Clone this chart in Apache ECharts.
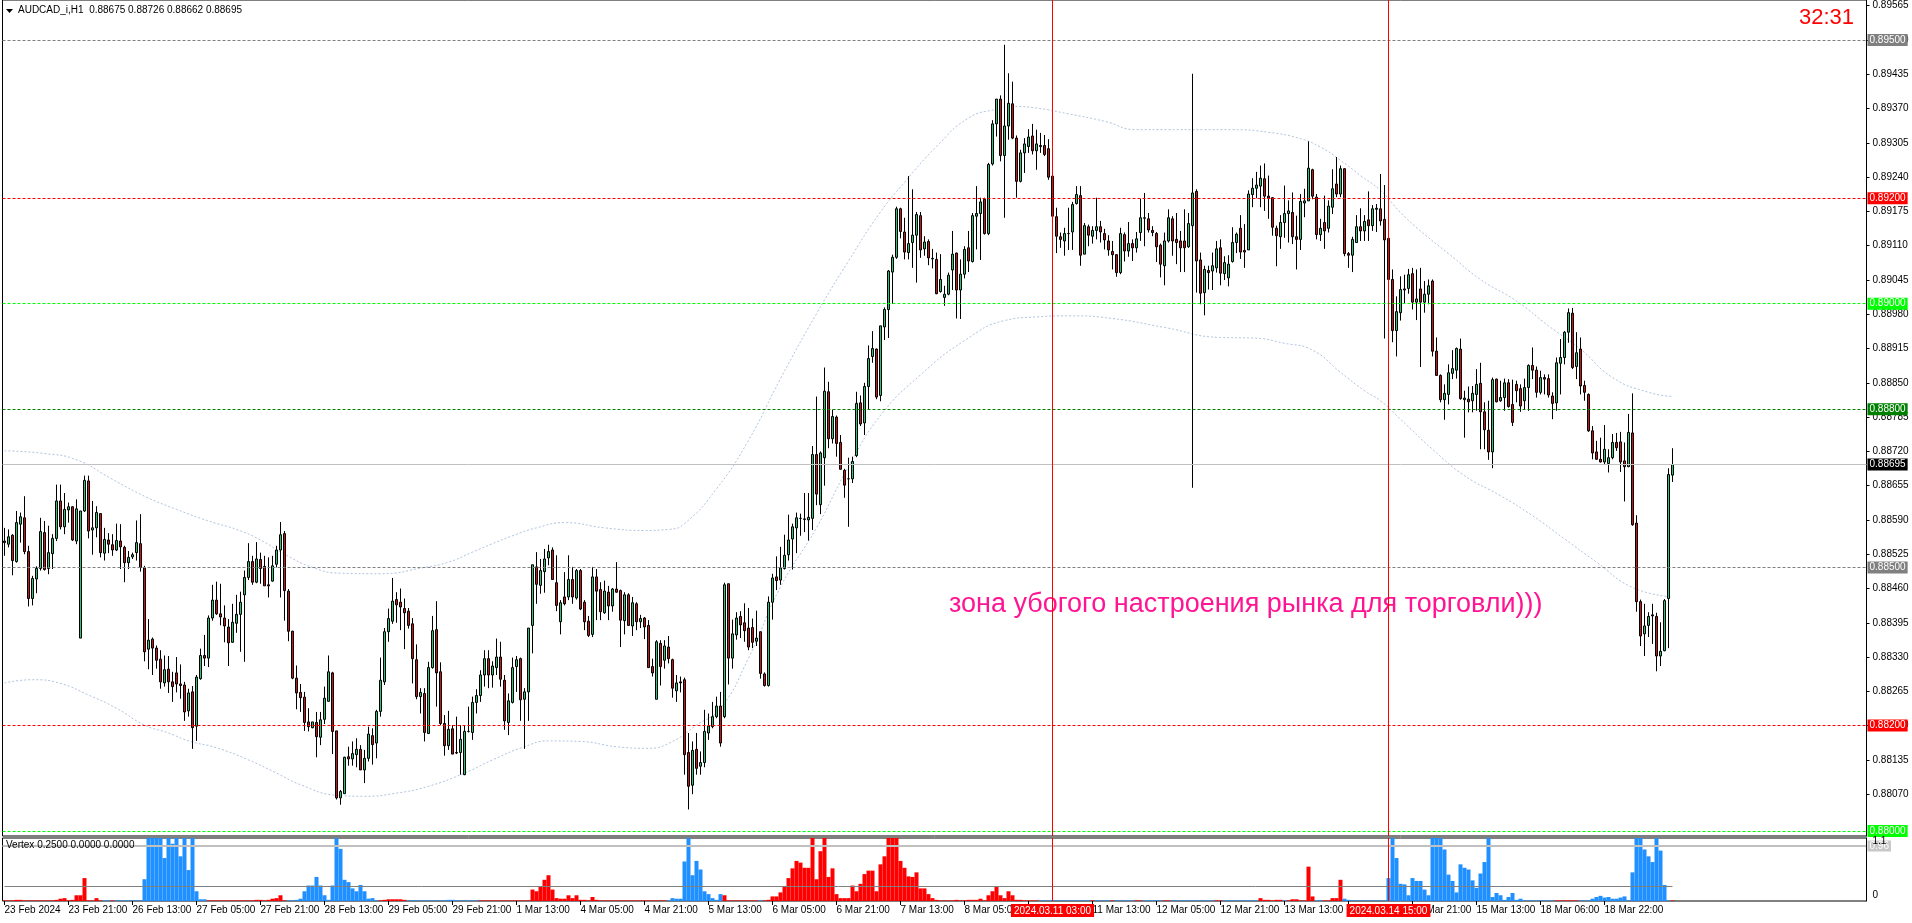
<!DOCTYPE html>
<html><head><meta charset="utf-8">
<script src="https://cdn.jsdelivr.net/npm/echarts@6/dist/echarts.min.js"></script>
<style>html,body{margin:0;padding:0;background:#fff;overflow:hidden}#c{width:1912px;height:923px}</style>
</head><body><div id="c"></div>
<script>
// ---- data (prices in points of 0.00001 above 0.88000) ----
const BASE = 0.88;
const xTickLabels = ["23 Feb 2024","23 Feb 21:00","26 Feb 13:00","27 Feb 05:00","27 Feb 21:00","28 Feb 13:00","29 Feb 05:00","29 Feb 21:00","1 Mar 13:00","4 Mar 05:00","4 Mar 21:00","5 Mar 13:00","6 Mar 05:00","6 Mar 21:00","7 Mar 13:00","8 Mar 05:00","8 Mar 21:00","11 Mar 13:00","12 Mar 05:00","12 Mar 21:00","13 Mar 13:00","14 Mar 05:00","14 Mar 21:00","15 Mar 13:00","18 Mar 06:00","18 Mar 22:00","19 Mar 14:00"];
const yTickLabels = [0.88070,0.88135,0.88200,0.88265,0.88330,0.88395,0.88460,0.88525,0.88590,0.88655,0.88720,0.88785,0.88850,0.88915,0.88980,0.89045,0.89110,0.89175,0.89240,0.89305,0.89370,0.89435,0.89500,0.89565];
const markedTimes = [{idx:262, text:"2024.03.11 03:00"}, {idx:346, text:"2024.03.14 15:00"}];
const priceLevels = [0.89500,0.89200,0.89000,0.88800,0.88500,0.88200,0.88000];
const lastPrice = 0.88695;

const opens = [
550,544,561,511,582,594,530,441,478,498, 566,498,526,555,626,577,609,615,550,366,
607,664,571,575,602,527,552,543,533,550, 538,509,520,528,545,499,345,364,347,326,
281,307,283,300,279,277,228,264,199,289, 333,328,404,438,412,404,387,358,394,411,
448,481,511,472,515,502,467,474,506,533, 564,455,379,290,263,254,207,196,206,178,
212,246,300,190,63,71,141,137,145,155, 116,138,181,167,227,283,378,398,439,434,
422,417,393,325,255,261,185,310,382,302, 204,162,194,149,149,107,189,187,244,257,
296,327,296,310,330,286,206,244,312,327, 250,264,390,501,466,492,518,533,471,397,
444,444,477,442,494,434,398,373,482,458, 414,453,427,459,456,399,448,389,431,397,
404,390,312,250,356,324,349,325,266,283, 287,149,87,155,123,130,186,198,217,237,
217,469,328,372,407,395,385,386,360,378, 298,276,434,482,476,498,524,554,575,593,
592,590,593,714,619,708,833,744,785,737, 684,668,668,712,812,774,843,900,914,826,
956,989,1060,1088,1180,1136,1097,1116,1130,1167, 1104,1118,1086,1084,1023,1012,1018,1064,1096,1026,
1056,1106,1080,1166,1171,1198,1133,1265,1341,1388, 1281,1337,1379,1314,1232,1286,1298,1318,1290,1300,
1300,1294,1242,1165,1127,1119,1133,1136,1190,1205, 1094,1146,1128,1139,1146,1133,1119,1099,1093,1059,
1131,1100,1114,1106,1135,1162,1161,1139,1133,1111, 1072,1119,1161,1122,1119,1119,1108,1148,1213,1083,
1021,1063,1062,1068,1106,1057,1049,1080,1116,1143, 1101,1102,1207,1219,1223,1237,1204,1201,1143,1127,
1154,1171,1173,1127,1122,1191,1195,1254,1202,1131, 1154,1143,1183,1227,1208,1256,1095,1092,1116,1146,
1138,1159,1148,1179,1180,1160,1124,1046,949,983, 1028,1029,1057,1003,1028,1003,1018,1043,910,864,
818,828,868,874,914,818,819,816,828,849, 795,760,719,857,816,822,850,809,847,839,
816,841,883,874,832,860,858,825,812,887, 898,946,982,881,914,845,828,759,719,705,
700,697,708,737,738,702,691,755,584,435, 374,390,410,407,332,342,441,675];
const highs = [
575,572,563,607,604,635,541,484,502,594, 588,579,563,657,657,641,623,616,629,607,
674,674,626,616,602,575,565,563,583,582, 541,531,528,589,601,503,402,367,352,343,
333,332,302,330,316,283,270,275,296,346, 372,409,467,473,469,428,402,431,448,454,
494,546,522,548,528,522,519,522,541,586, 569,459,380,314,279,264,233,207,226,226,
274,333,302,190,78,141,160,170,176,163, 154,198,195,230,329,385,422,480,453,460,
441,423,404,354,271,271,321,408,436,320, 220,228,201,217,201,201,236,255,269,305,
343,343,322,365,359,296,261,329,332,329, 271,385,505,529,516,535,543,538,523,438,
491,523,501,497,497,438,408,501,497,472, 475,465,461,510,458,453,451,444,434,410,
406,400,327,362,362,362,370,327,296,293, 291,186,170,186,151,230,223,245,255,264,
471,469,401,415,417,432,423,403,418,378, 301,445,488,521,539,562,600,583,604,602,
641,641,730,824,720,879,852,799,788,751, 687,708,710,833,826,850,921,948,915,958,
993,1064,1093,1184,1182,1163,1242,1217,1174,1174, 1128,1122,1104,1097,1094,1034,1059,1138,1097,1084,
1109,1138,1172,1223,1201,1201,1267,1348,1388,1395, 1491,1437,1421,1319,1292,1314,1331,1341,1330,1324,
1320,1312,1245,1182,1135,1144,1182,1193,1223,1223, 1153,1150,1147,1201,1157,1142,1130,1119,1094,1144,
1135,1155,1122,1136,1199,1210,1172,1147,1136,1114, 1135,1179,1166,1172,1138,1179,1172,1436,1217,1097,
1072,1072,1097,1119,1122,1090,1092,1145,1135,1168, 1151,1215,1238,1250,1262,1266,1243,1202,1148,1168,
1224,1196,1211,1167,1208,1218,1308,1256,1208,1161, 1205,1196,1255,1278,1262,1257,1098,1127,1168,1181,
1168,1213,1187,1189,1246,1225,1129,1065,1014,1052, 1055,1066,1068,1065,1068,1043,1046,1046,936,866,
847,885,912,917,934,835,843,844,876,888, 813,816,860,858,854,858,857,856,854,847,
858,885,917,881,873,866,866,832,898,933, 948,991,992,946,936,854,830,768,740,746,
770,724,753,755,757,737,791,830,599,439, 431,415,431,414,396,440,688,726];
const lows = [
522,538,485,509,547,525,426,428,451,494, 494,487,497,550,572,563,585,550,544,366,
605,555,524,557,519,513,527,522,531,497, 472,497,516,513,492,322,307,296,308,270,
274,262,245,263,251,209,217,156,171,287, 313,311,399,410,390,358,313,357,376,340,
321,476,467,470,469,465,443,473,500,443, 399,360,288,231,226,190,189,195,140,163,
203,246,146,60,50,71,124,124,121,116, 91,132,126,138,217,277,359,393,395,381,
345,384,280,250,223,170,184,308,236,201, 143,154,146,146,107,106,187,173,223,245,
274,271,272,296,274,192,182,242,264,209, 156,209,337,431,450,452,504,477,417,373,
428,438,431,439,419,381,368,368,400,400, 412,400,416,452,349,373,390,370,381,385,
364,310,293,250,276,308,318,253,245,263, 107,41,70,107,107,121,173,195,214,160,
214,278,308,363,366,359,343,347,351,289, 274,274,401,457,467,496,513,496,527,560,
567,551,571,618,601,655,726,735,710,686, 632,577,660,709,768,751,799,888,819,815,
931,935,1000,1085,1124,1084,1084,1068,1040,1087, 1091,1073,1067,1018,1021,996,1016,1026,972,971,
1048,1060,1078,1103,1083,1131,1130,1262,1317,1270, 1163,1311,1312,1201,1230,1248,1286,1283,1254,1286,
1280,1235,1166,1096,1106,1091,1102,1102,1188,1072, 1094,1109,1114,1122,1116,1103,1091,1065,1051,1056,
1080,1089,1081,1097,1119,1109,1135,1128,1079,1050, 1035,1116,1091,1075,1060,1060,1106,651,1021,999,
978,1027,1026,1059,1035,1045,1033,1078,1096,1085, 1068,1102,1183,1200,1183,1176,1161,1129,1071,1104,
1125,1116,1113,1065,1102,1164,1195,1198,1122,1119, 1104,1135,1170,1202,1202,1090,1068,1060,1116,1119,
1119,1119,1138,1136,1148,934,915,927,900,968, 1001,1019,989,969,880,983,999,900,863,813,
780,809,857,858,818,746,794,794,797,724, 724,704,688,813,814,797,803,768,813,795,
800,797,857,822,828,828,822,781,797,828, 885,926,876,857,828,816,757,705,704,699,
694,680,705,721,681,625,690,579,416,351, 332,368,355,303,313,341,347,662];
const closes = [
547,558,513,585,596,530,441,479,498,568, 496,528,555,626,577,610,615,552,611,607,
665,569,575,604,528,553,544,533,551,539, 509,519,524,547,500,340,362,347,324,283,
306,283,274,279,276,226,262,196,292,333, 328,404,438,412,406,389,357,396,411,434,
481,511,472,516,498,465,465,503,533,562, 456,379,290,262,253,206,198,207,179,211,
252,302,189,63,75,140,137,147,155,116, 138,184,164,227,286,378,403,436,429,425,
414,390,327,255,263,187,310,380,300,204, 162,193,146,148,174,189,189,244,257,296,
327,296,313,330,288,209,247,310,325,249, 264,385,505,468,494,516,530,477,428,433,
431,477,444,494,421,397,371,482,455,416, 455,427,459,453,400,448,390,433,397,403,
387,310,300,359,312,351,327,271,281,281, 145,85,153,119,130,189,199,217,237,167,
467,328,374,404,391,380,349,358,366,299, 276,434,480,475,499,523,552,577,594,593,
591,595,714,639,717,834,744,786,735,686, 656,668,701,811,772,843,896,915,823,958,
989,1062,1088,1180,1137,1098,1114,1130,1169,1102, 1117,1087,1085,1019,1046,1018,1054,1094,1026,1056,
1103,1081,1167,1171,1193,1133,1264,1341,1388,1281, 1337,1380,1314,1232,1286,1303,1316,1290,1303,1298,
1283,1240,1166,1128,1122,1133,1133,1188,1207,1092, 1148,1130,1139,1146,1136,1121,1102,1093,1059,1133,
1100,1114,1106,1123,1163,1163,1140,1135,1108,1075, 1119,1163,1119,1116,1106,1106,1152,1210,1081,1020,
1065,1059,1072,1104,1058,1078,1075,1116,1132,1098, 1098,1208,1219,1225,1238,1204,1200,1145,1129,1154,
1171,1176,1127,1122,1194,1195,1257,1204,1131,1143, 1138,1185,1218,1208,1256,1095,1092,1122,1146,1138,
1156,1148,1180,1181,1157,1121,1046,949,985,1027, 1026,1055,1003,1009,1003,1018,1034,910,864,818,
830,869,877,915,820,821,814,830,847,795, 761,719,856,814,822,850,805,775,835,806,
841,883,874,832,860,857,827,811,888,898, 946,983,879,907,844,832,759,717,705,700,
724,708,737,727,700,691,756,581,435,370, 389,407,408,332,341,437,676,695];

// Vertex histogram: positive = bullish (blue), negative = bearish (red)
const vertex = [
-0.01,-0.01,-0.01,-0.02,-0.02,-0.01,-0.01,-0.01,-0.01,-0.01, -0.01,-0.01,-0.01,-0.02,-0.04,-0.05,-0.01,-0.02,-0.1,-0.1,
-0.4,-0.01,-0.01,-0.05,-0.01,0.01,0.01,-0.01,0.01,0.01, 0.01,0.01,0.01,0.01,0.01,0.38,1.1,1.1,1.1,1.1,
0.75,1.1,1.0,1.1,0.78,1.1,0.54,1.1,0.17,0.03, 0.03,-0.01,-0.01,-0.01,-0.01,-0.01,-0.01,-0.01,-0.01,-0.01,
-0.01,-0.01,-0.01,-0.02,-0.02,-0.01,-0.02,-0.04,-0.05,-0.1, -0.01,0.01,0.01,0.02,0.04,0.17,0.27,0.27,0.42,0.27,
0.1,0.02,0.27,1.1,0.91,0.37,0.33,0.22,0.17,0.28, 0.17,0.04,0.05,0.01,-0.01,-0.02,-0.03,-0.03,-0.03,-0.03,
-0.02,0.01,0.01,0.01,0.01,0.01,0.01,0.01,0.01,0.01, 0.01,0.02,0.02,0.01,0.01,0.01,0.01,0.01,0.01,-0.01,
-0.01,-0.01,-0.01,-0.01,-0.01,-0.01,-0.01,-0.01,-0.01,-0.01, -0.01,-0.01,-0.2,-0.17,-0.26,-0.37,-0.45,-0.2,-0.05,-0.04,
-0.04,-0.1,-0.05,-0.1,-0.02,-0.02,-0.01,-0.07,-0.02,-0.01, -0.01,-0.01,-0.01,-0.01,-0.01,-0.01,-0.01,-0.01,-0.01,-0.01,
-0.01,-0.01,-0.01,-0.01,-0.01,-0.01,0.01,0.05,0.04,0.04, 0.69,1.1,0.45,0.7,0.55,0.17,0.12,0.05,0.02,0.12,
-0.1,-0.01,-0.01,-0.01,-0.01,-0.01,-0.01,-0.01,-0.01,0.01, -0.01,-0.02,-0.08,-0.08,-0.15,-0.25,-0.4,-0.57,-0.7,-0.67,
-0.58,-0.58,-1.1,-0.38,-0.87,-1.1,-0.42,-0.57,-0.12,-0.05, -0.05,-0.05,-0.27,-0.17,-0.3,-0.47,-0.53,-0.53,-0.17,-0.64,
-0.78,-1.1,-1.1,-1.1,-0.7,-0.58,-0.43,-0.42,-0.5,-0.22, -0.22,-0.12,-0.05,-0.02,-0.01,-0.01,-0.01,-0.01,-0.02,-0.01,
-0.01,-0.02,-0.02,-0.02,-0.04,-0.01,-0.1,-0.17,-0.25,-0.1, -0.05,-0.17,-0.1,-0.02,-0.02,-0.01,-0.01,-0.01,-0.01,0.01,
0.01,0.01,0.01,0.01,0.01,0.01,0.01,0.01,0.01,0.01, 0.01,0.01,-0.01,0.01,0.01,0.01,0.01,-0.01,0.01,0.01,
0.01,0.01,0.01,-0.01,-0.01,0.01,0.01,0.01,0.01,0.01, -0.01,-0.01,0.01,0.01,0.01,0.01,0.01,0.01,0.01,0.01,
0.01,0.01,0.01,-0.01,-0.01,0.01,0.01,0.01,0.01,0.01, 0.01,0.01,0.01,0.01,-0.05,-0.02,-0.02,-0.01,-0.02,-0.02,
0.01,-0.01,-0.03,-0.03,-0.01,-0.01,-0.6,-0.08,0.01,0.01, -0.01,-0.01,-0.05,-0.05,-0.37,0.04,0.02,0.01,0.01,0.01,
0.01,0.01,0.01,0.01,0.01,0.01,0.4,1.1,0.75,0.3, 0.29,0.1,0.4,0.35,0.35,0.2,0.1,1.1,1.1,1.1,
0.9,0.46,0.35,0.15,0.64,0.58,0.55,0.36,0.23,0.48, 0.68,1.1,0.07,0.14,0.1,0.02,0.07,0.14,0.02,0.04,
0.01,0.01,0.01,0.01,0.01,0.01,0.01,0.01,-0.01,-0.01, -0.01,-0.01,-0.01,-0.01,0.01,0.01,0.01,0.04,0.07,0.09,
0.06,0.07,0.04,0.04,0.06,0.08,0.01,0.5,1.1,1.1, 0.9,0.78,0.68,1.1,0.88,0.28,0.01,-0.01];

// envelope bands read at these bar indices (points above 0.88000)
const upperIdx = [0,10,18,27,35,43,51,58,64,70,77,84,94,105,111,117,122,127,133,140,150,160,166,170,178,186,194,203,211,219,225,233,241,248,252,258,266,275,283,291,300,307,316,324,329,334,339,344,349,354,361,369,378,386,394,402,411,417];
const upperVal = [721,716,704,667,635,610,588,572,552,525,500,489,488,500,510,529,545,560,575,585,575,570,572,583,649,741,858,981,1081,1174,1230,1298,1352,1369,1374,1371,1360,1346,1330,1330,1330,1330,1325,1313,1297,1272,1243,1215,1173,1138,1095,1046,1005,958,914,860,832,824];
const lowerIdx = [0,7,14,21,28,35,41,46,53,61,68,74,83,90,98,106,115,122,130,136,144,153,161,167,173,179,186,194,203,211,219,229,240,250,258,266,277,290,304,312,320,327,334,340,344,349,357,365,374,382,390,398,407,417];
const lowerVal = [281,287,280,258,233,201,186,171,158,135,110,88,68,66,72,85,110,135,160,171,170,160,157,170,201,233,328,463,575,691,788,865,930,968,975,977,972,955,936,935,925,912,870,835,816,781,724,674,636,598,554,510,462,444];

// ---- chart ----
const FONT = "'Liberation Sans', Arial, sans-serif";
const N_SLOTS = 466; // bars + right-side chart shift
const cats = Array.from({length: N_SLOTS}, (_, i) => i);
const px = p => +(BASE + p / 1e5).toFixed(5);
const candleData = opens.map((o, i) => [px(o), px(closes[i]), px(lows[i]), px(highs[i])]);
const levelStyle = {
  '0.89500': '#808080', '0.89200': '#FF0000', '0.89000': '#00FF00', '0.88800': '#008000',
  '0.88500': '#808080', '0.88200': '#FF0000', '0.88000': '#00FF00'
};
const boxLabel = (bg, txt) => ({show: true, position: 'end', distance: 1, formatter: txt,
  backgroundColor: bg, color: '#fff', fontFamily: FONT, fontSize: 10, padding: [1, 2, 0, 2], lineHeight: 11});

const levelMarks = priceLevels.map(v => {
  const key = v.toFixed(5), c = levelStyle[key];
  return {yAxis: v, lineStyle: {color: c, type: [3, 2], width: 1}, label: boxLabel(c, key)};
});
levelMarks.push({yAxis: lastPrice, lineStyle: {color: '#C0C0C0', type: 'solid', width: 1}, label: boxLabel('#000', lastPrice.toFixed(5))});
const vMarks = markedTimes.map(m => ({xAxis: m.idx, lineStyle: {color: '#FF0000', type: 'solid', width: 1}, label: {show: false}}));

const indMarks = [
  {yAxis: 0.96, lineStyle: {color: '#C0C0C0', type: 'solid', width: 2}, label: {show: true, position: 'end', distance: 1, formatter: '0.96', backgroundColor: '#C8C8C8', color: '#fff', fontFamily: FONT, fontSize: 10, padding: [1, 2, 0, 2]}},
  [{coord: [0, 0.25], lineStyle: {color: '#808080', type: 'solid', width: 1}, label: {show: false}}, {coord: [opens.length - 1, 0.25]}]
];
markedTimes.forEach(m => indMarks.push({xAxis: m.idx, lineStyle: {color: '#FF0000', type: 'solid', width: 1},
  label: {show: true, position: 'start', distance: 3, formatter: m.text, backgroundColor: '#FF0000', color: '#fff', fontFamily: FONT, fontSize: 10, padding: [2, 3, 1, 3]}}));

const chart = echarts.init(document.getElementById('c'), null, {renderer: 'canvas'});
const xInterval = (i) => i % 16 === 0 && i / 16 < xTickLabels.length;
chart.setOption({
  animation: false,
  backgroundColor: '#fff',
  grid: [
    {left: 2.5, right: 45.5, top: 0, height: 836, show: true, borderColor: '#000', borderWidth: 1, backgroundColor: 'transparent'},
    {left: 2.5, right: 45.5, top: 838, height: 63, show: true, borderColor: '#000', borderWidth: 1, backgroundColor: 'transparent'}
  ],
  xAxis: [
    {type: 'category', gridIndex: 0, data: cats, boundaryGap: true, axisLine: {show: false}, axisTick: {show: false}, axisLabel: {show: false}, splitLine: {show: false}},
    {type: 'category', gridIndex: 1, data: cats, boundaryGap: true, axisLine: {show: false},
      axisTick: {show: true, alignWithLabel: true, length: 4, lineStyle: {color: '#000'}, interval: xInterval},
      axisLabel: {show: true, interval: xInterval, showMaxLabel: false, showMinLabel: true,
        formatter: (v, i) => xTickLabels[i / 16] || '', align: 'left', margin: 4, color: '#000', fontFamily: FONT, fontSize: 10},
      splitLine: {show: false}}
  ],
  yAxis: [
    {type: 'value', gridIndex: 0, position: 'right', min: 0.879907, max: 0.895759, scale: true,
      axisLine: {show: true, lineStyle: {color: '#000'}},
      axisTick: {show: true, length: 3, lineStyle: {color: '#000'}, customValues: yTickLabels},
      axisLabel: {customValues: yTickLabels, formatter: v => v.toFixed(5), margin: 6, color: '#000', fontFamily: FONT, fontSize: 10},
      splitLine: {show: false}},
    {type: 'value', gridIndex: 1, position: 'right', min: 0, max: 1.1, z: 10,
      axisLine: {show: true, lineStyle: {color: '#000'}},
      axisTick: {show: false},
      axisLabel: {customValues: [0, 1.1], margin: 6, color: '#000', fontFamily: FONT, fontSize: 10,
        formatter: v => v === 0 ? '{b|0}' : '{t|1.1}', rich: {b: {padding: [0, 0, 12, 0], fontFamily: FONT, fontSize: 10, color: '#000'}, t: {padding: [6, 0, 0, 0], fontFamily: FONT, fontSize: 10, color: '#000'}}},
      splitLine: {show: false}}
  ],
  series: [
    {type: 'line', xAxisIndex: 0, yAxisIndex: 0, data: upperIdx.map((i, k) => [i, px(upperVal[k])]), smooth: true, showSymbol: false, silent: true,
      lineStyle: {color: '#B0C4DE', width: 1, type: [2, 2]}, z: 1,
      markLine: {symbol: ['none', 'none'], precision: 5, silent: true, animation: false, data: levelMarks}},
    {type: 'line', xAxisIndex: 0, yAxisIndex: 0, data: lowerIdx.map((i, k) => [i, px(lowerVal[k])]), smooth: true, showSymbol: false, silent: true,
      lineStyle: {color: '#B0C4DE', width: 1, type: [2, 2]}, z: 1},
    {type: 'candlestick', xAxisIndex: 0, yAxisIndex: 0, data: candleData, barWidth: 2, z: 3,
      itemStyle: {color: '#22C77A', color0: '#C81414', borderColor: '#000', borderColor0: '#000', borderWidth: 1},
      markLine: {symbol: ['none', 'none'], precision: 5, silent: true, animation: false, data: vMarks}},
    {type: 'bar', xAxisIndex: 1, yAxisIndex: 1, barCategoryGap: '0%', z: 2,
      data: vertex.map(v => ({value: Math.min(Math.abs(v), 1.1), itemStyle: {color: v < 0 ? '#FF0000' : '#1E90FF'}})),
      markLine: {symbol: ['none', 'none'], precision: 5, silent: true, animation: false, data: indMarks}}
  ],
  graphic: [
    {type: 'polygon', shape: {points: [[6, 9], [13, 9], [9.5, 13]]}, style: {fill: '#000'}},
    {type: 'text', left: 18, top: 5, style: {text: 'AUDCAD_i,H1  0.88675 0.88726 0.88662 0.88695', fill: '#000', font: '10px ' + FONT}},
    {type: 'text', left: 6, top: 840, z: 20, style: {text: 'Vertex 0.2500 0.0000 0.0000', fill: '#000', font: '10px ' + FONT}},
    {type: 'text', left: 1799, top: 7, style: {text: '32:31', fill: '#FF0000', font: '22px ' + FONT}},
    {type: 'text', left: 949, top: 591, style: {text: 'зона убогого настроения рынка для торговли)))', fill: '#FF1493', font: '27px ' + FONT}}
  ]
});
</script></body></html>
